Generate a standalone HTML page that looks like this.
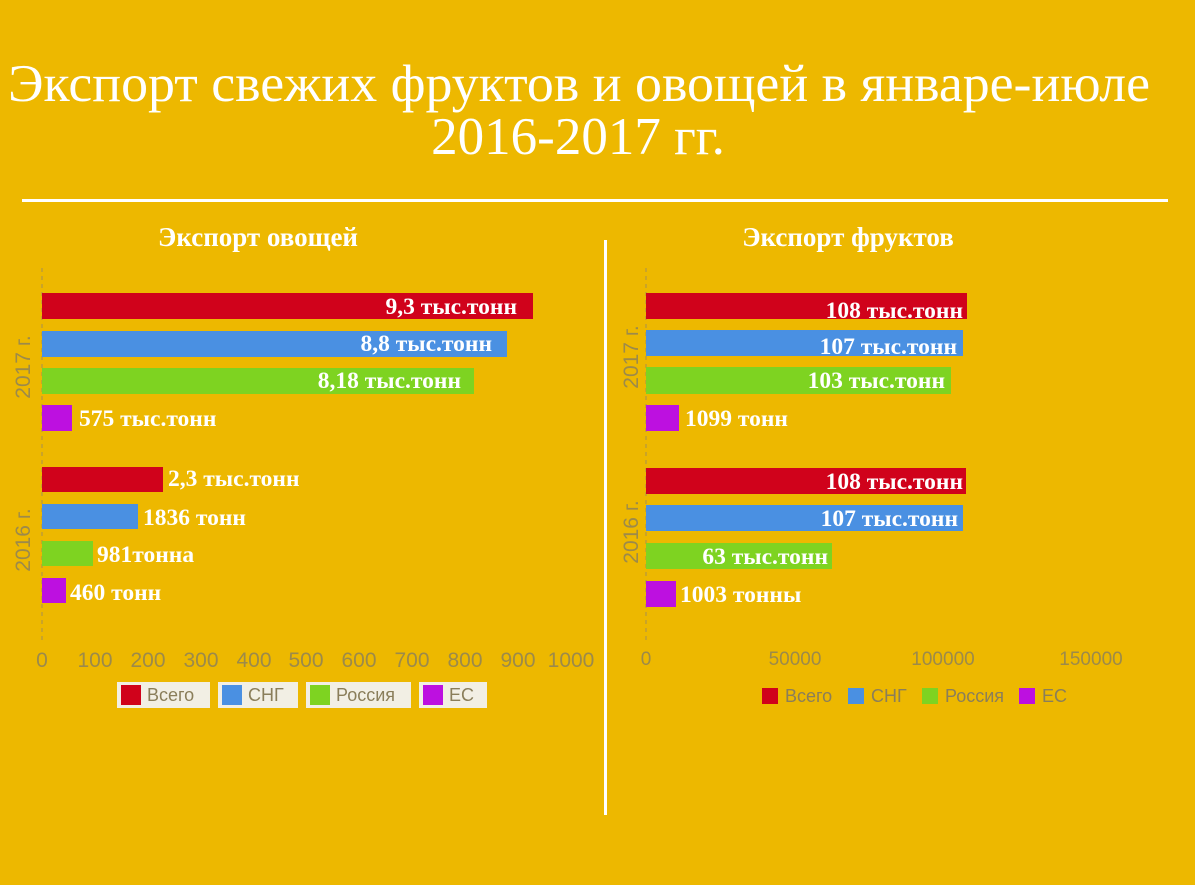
<!DOCTYPE html><html><head><meta charset="utf-8"><style>
html,body{margin:0;padding:0;background:#EDB800;}
svg{display:block}
.t{font-family:"Liberation Serif",serif;fill:#fff}
.b{font-family:"Liberation Serif",serif;font-weight:bold;fill:#fff;font-size:23.5px}
.k{font-family:"Liberation Sans",sans-serif;fill:#9C8A4A;font-size:21px}
.l{font-family:"Liberation Sans",sans-serif;fill:#8A7E5A;font-size:18px}
</style></head><body>
<svg width="1195" height="885" xmlns="http://www.w3.org/2000/svg">
<rect width="1195" height="885" fill="#EDB800"/>
<text class="t" x="8" y="101" font-size="53" textLength="1142" lengthAdjust="spacingAndGlyphs">Экспорт свежих фруктов и овощей в январе-июле</text>
<text class="t" x="578" y="154" font-size="53" text-anchor="middle">2016-2017 гг.</text>
<rect x="22" y="199" width="1146" height="3" fill="#fff"/>
<rect x="604" y="240" width="3" height="575" fill="#fff"/>
<text class="t" x="258" y="246" font-size="27" font-weight="bold" text-anchor="middle">Экспорт овощей</text>
<text class="t" x="848" y="246" font-size="27" font-weight="bold" text-anchor="middle">Экспорт фруктов</text>

<!-- left -->
<line x1="42" y1="268" x2="42" y2="640" stroke="#A89050" stroke-dasharray="4,4"/>
<text class="k" transform="translate(30,367) rotate(-90)" text-anchor="middle">2017 г.</text>
<text class="k" transform="translate(30,540) rotate(-90)" text-anchor="middle">2016 г.</text>
<rect x="42" y="293" width="491" height="26" fill="#D0021B"/>
<rect x="42" y="331" width="465" height="26" fill="#4A90E2"/>
<rect x="42" y="368" width="432" height="26" fill="#7ED321"/>
<rect x="42" y="405" width="30" height="26" fill="#BD10E0"/>
<rect x="42" y="467" width="121" height="25" fill="#D0021B"/>
<rect x="42" y="504" width="96" height="25" fill="#4A90E2"/>
<rect x="42" y="541" width="51" height="25" fill="#7ED321"/>
<rect x="42" y="578" width="24" height="25" fill="#BD10E0"/>
<text class="b" x="517" y="314" text-anchor="end">9,3 тыс.тонн</text>
<text class="b" x="492" y="351" text-anchor="end">8,8 тыс.тонн</text>
<text class="b" x="461" y="388" text-anchor="end">8,18 тыс.тонн</text>
<text class="b" x="79" y="426">575 тыс.тонн</text>
<text class="b" x="168" y="486">2,3 тыс.тонн</text>
<text class="b" x="143" y="525">1836 тонн</text>
<text class="b" x="97" y="562">981тонна</text>
<text class="b" x="70" y="600">460 тонн</text>
<g class="k" text-anchor="middle">
<text x="42" y="667">0</text><text x="95" y="667">100</text><text x="148" y="667">200</text><text x="201" y="667">300</text><text x="254" y="667">400</text><text x="306" y="667">500</text><text x="359" y="667">600</text><text x="412" y="667">700</text><text x="465" y="667">800</text><text x="518" y="667">900</text><text x="571" y="667">1000</text>
</g>
<rect x="117" y="682" width="93" height="26" fill="#F2EFE4"/>
<rect x="121" y="685" width="20" height="20" fill="#D0021B"/>
<text class="l" x="147" y="701">Всего</text>
<rect x="218" y="682" width="80" height="26" fill="#F2EFE4"/>
<rect x="222" y="685" width="20" height="20" fill="#4A90E2"/>
<text class="l" x="248" y="701">СНГ</text>
<rect x="306" y="682" width="105" height="26" fill="#F2EFE4"/>
<rect x="310" y="685" width="20" height="20" fill="#7ED321"/>
<text class="l" x="336" y="701">Россия</text>
<rect x="419" y="682" width="68" height="26" fill="#F2EFE4"/>
<rect x="423" y="685" width="20" height="20" fill="#BD10E0"/>
<text class="l" x="449" y="701">ЕС</text>

<!-- right -->
<line x1="646" y1="268" x2="646" y2="640" stroke="#A89050" stroke-dasharray="4,4"/>
<text class="k" transform="translate(638,357) rotate(-90)" text-anchor="middle">2017 г.</text>
<text class="k" transform="translate(638,532) rotate(-90)" text-anchor="middle">2016 г.</text>
<rect x="646" y="293" width="321" height="26" fill="#D0021B"/>
<rect x="646" y="330" width="317" height="26" fill="#4A90E2"/>
<rect x="646" y="367" width="305" height="27" fill="#7ED321"/>
<rect x="646" y="405" width="33" height="26" fill="#BD10E0"/>
<rect x="646" y="468" width="320" height="26" fill="#D0021B"/>
<rect x="646" y="505" width="317" height="26" fill="#4A90E2"/>
<rect x="646" y="543" width="186" height="26" fill="#7ED321"/>
<rect x="646" y="581" width="30" height="26" fill="#BD10E0"/>
<text class="b" x="963" y="318" text-anchor="end">108 тыс.тонн</text>
<text class="b" x="957" y="354" text-anchor="end">107 тыс.тонн</text>
<text class="b" x="945" y="388" text-anchor="end">103 тыс.тонн</text>
<text class="b" x="685" y="426">1099 тонн</text>
<text class="b" x="963" y="489" text-anchor="end">108 тыс.тонн</text>
<text class="b" x="958" y="526" text-anchor="end">107 тыс.тонн</text>
<text class="b" x="828" y="564" text-anchor="end">63 тыс.тонн</text>
<text class="b" x="680" y="602">1003 тонны</text>
<g class="k" text-anchor="middle" style="font-size:19px">
<text x="646" y="665">0</text><text x="795" y="665">50000</text><text x="943" y="665">100000</text><text x="1091" y="665">150000</text>
</g>
<rect x="762" y="688" width="16" height="16" fill="#D0021B"/>
<text class="l" x="785" y="702">Всего</text>
<rect x="848" y="688" width="16" height="16" fill="#4A90E2"/>
<text class="l" x="871" y="702">СНГ</text>
<rect x="922" y="688" width="16" height="16" fill="#7ED321"/>
<text class="l" x="945" y="702">Россия</text>
<rect x="1019" y="688" width="16" height="16" fill="#BD10E0"/>
<text class="l" x="1042" y="702">ЕС</text>
</svg>
</body></html>
